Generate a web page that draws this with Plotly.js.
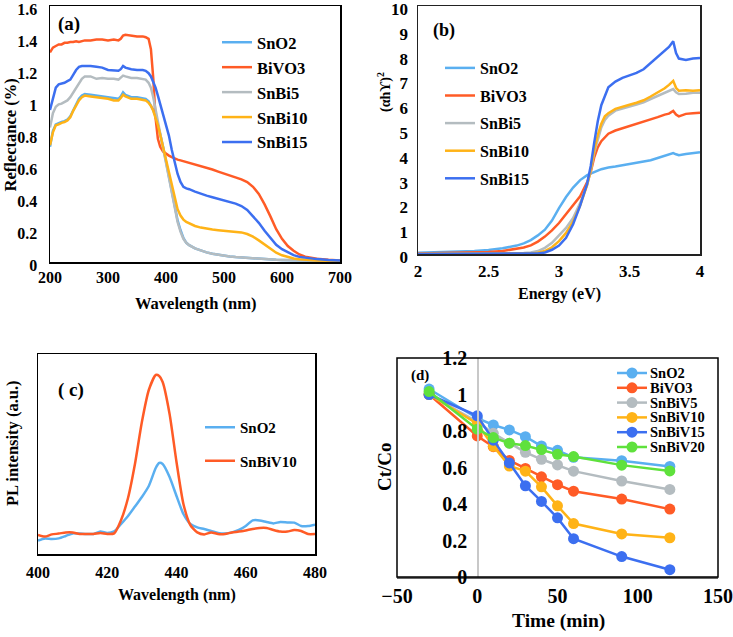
<!DOCTYPE html>
<html><head><meta charset="utf-8">
<script src="https://cdn.plot.ly/plotly-3.0.1.min.js"></script>
<style>html,body{margin:0;padding:0;background:#fff}#chart{width:733px;height:637px}</style>
</head><body><div id="chart"></div>
<script>
// ---------- Panel (a): Reflectance ----------
const wlA = [200,205,210,215,220,225,230,235,240,245,250,255,260,270,280,290,300,310,318,322,326,330,340,350,360,365,370,374,378,382,386,390,395,400,405,410,415,420,425,430,435,440,450,460,470,480,490,500,510,520,530,540,550,560,570,580,590,600,610,620,630,640,650,660,680,700];
const reflSnO2 = [0.72,0.82,0.86,0.87,0.875,0.88,0.89,0.91,0.95,0.99,1.02,1.04,1.05,1.045,1.04,1.035,1.03,1.025,1.02,1.035,1.06,1.045,1.03,1.03,1.025,1.02,1.005,0.98,0.95,0.91,0.86,0.8,0.72,0.63,0.54,0.44,0.35,0.26,0.2,0.15,0.12,0.105,0.085,0.07,0.06,0.052,0.045,0.04,0.035,0.031,0.028,0.025,0.022,0.02,0.018,0.016,0.014,0.013,0.012,0.011,0.01,0.009,0.009,0.008,0.007,0.006];
const reflBiVO3 = [1.31,1.34,1.35,1.36,1.36,1.37,1.37,1.375,1.375,1.38,1.375,1.38,1.385,1.385,1.39,1.39,1.385,1.39,1.385,1.395,1.415,1.42,1.415,1.41,1.41,1.405,1.395,1.33,1.15,0.9,0.77,0.72,0.69,0.675,0.665,0.655,0.645,0.64,0.635,0.63,0.625,0.62,0.61,0.6,0.59,0.578,0.565,0.553,0.54,0.528,0.516,0.5,0.47,0.425,0.36,0.285,0.205,0.145,0.1,0.07,0.047,0.033,0.025,0.02,0.014,0.01];
const reflSnBi5 = [0.84,0.93,0.97,0.985,0.99,1.0,1.01,1.03,1.06,1.09,1.12,1.145,1.16,1.16,1.145,1.15,1.145,1.145,1.14,1.15,1.165,1.16,1.15,1.15,1.145,1.14,1.12,1.09,1.03,0.96,0.88,0.8,0.71,0.62,0.53,0.43,0.33,0.25,0.19,0.145,0.12,0.105,0.085,0.07,0.06,0.052,0.045,0.04,0.035,0.031,0.028,0.025,0.022,0.02,0.018,0.016,0.014,0.013,0.012,0.011,0.01,0.009,0.009,0.008,0.007,0.006];
const reflSnBi10 = [0.73,0.81,0.855,0.86,0.87,0.875,0.885,0.905,0.945,0.98,1.01,1.03,1.04,1.035,1.03,1.025,1.02,1.01,1.01,1.025,1.045,1.035,1.02,1.02,1.015,1.01,0.995,0.975,0.945,0.905,0.855,0.795,0.715,0.64,0.56,0.48,0.4,0.33,0.29,0.265,0.25,0.24,0.225,0.215,0.208,0.203,0.199,0.196,0.193,0.19,0.185,0.175,0.158,0.135,0.108,0.08,0.058,0.042,0.03,0.022,0.017,0.014,0.012,0.01,0.008,0.006];
const reflSnBi15 = [0.95,1.03,1.09,1.11,1.115,1.12,1.13,1.14,1.17,1.2,1.22,1.225,1.225,1.225,1.22,1.215,1.2,1.195,1.195,1.205,1.225,1.215,1.205,1.2,1.2,1.195,1.18,1.16,1.13,1.09,1.04,0.99,0.93,0.86,0.79,0.7,0.62,0.55,0.5,0.47,0.46,0.455,0.44,0.425,0.415,0.405,0.395,0.385,0.375,0.365,0.35,0.325,0.285,0.245,0.195,0.15,0.108,0.08,0.06,0.043,0.032,0.026,0.021,0.018,0.013,0.01];
const namesA = ["SnO2","BiVO3","SnBi5","SnBi10","SnBi15"];

// ---------- Panel (b): Tauc ----------
const eB = [2.0,2.2,2.4,2.5,2.6,2.7,2.75,2.8,2.85,2.9,2.95,3.0,3.05,3.1,3.15,3.2,3.225,3.25,3.275,3.3,3.325,3.35,3.4,3.45,3.5,3.55,3.6,3.65,3.7,3.75,3.78,3.81,3.83,3.85,3.9,3.95,4.0];
const taucSnO2 = [0.05,0.08,0.12,0.16,0.23,0.34,0.43,0.56,0.75,0.98,1.35,1.85,2.3,2.68,2.98,3.18,3.25,3.3,3.36,3.42,3.46,3.49,3.53,3.58,3.62,3.66,3.7,3.78,3.87,3.95,4.0,4.07,4.02,3.98,4.03,4.08,4.1];
const taucBiVO3 = [0.02,0.04,0.06,0.08,0.12,0.2,0.26,0.35,0.5,0.7,0.95,1.25,1.6,1.95,2.33,2.9,3.3,3.9,4.3,4.55,4.72,4.85,4.98,5.07,5.15,5.22,5.32,5.43,5.52,5.62,5.66,5.77,5.62,5.55,5.65,5.68,5.7];
const taucSnBi5 = [0,0,0.01,0.01,0.02,0.03,0.04,0.06,0.12,0.25,0.45,0.74,1.05,1.45,2.05,2.8,3.35,4.1,4.65,5.1,5.4,5.58,5.78,5.88,5.95,6.03,6.12,6.25,6.38,6.5,6.58,6.65,6.52,6.45,6.46,6.5,6.5];
const taucSnBi10 = [0,0,0,0,0.005,0.01,0.015,0.02,0.05,0.12,0.27,0.52,0.85,1.3,1.95,2.8,3.4,4.2,4.8,5.25,5.55,5.68,5.85,5.95,6.02,6.1,6.2,6.35,6.5,6.68,6.82,6.98,6.7,6.58,6.6,6.58,6.6];
const taucSnBi15 = [0,0,0,0,0,0.005,0.01,0.01,0.02,0.06,0.17,0.34,0.65,1.2,1.95,2.85,3.55,4.5,5.35,6.0,6.4,6.72,6.95,7.1,7.2,7.3,7.45,7.7,7.95,8.2,8.35,8.58,8.1,7.88,7.82,7.88,7.9];

// ---------- Panel (c): PL ----------
const wlC = [400,402,404,406,408,410,412,414,416,418,420,422,424,426,428,430,432,434,435,436,438,440,442,444,446,448,450,452,454,456,458,460,462,464,466,468,470,472,474,476,478,480];
const plSnO2 = [0.067,0.078,0.075,0.078,0.09,0.103,0.102,0.1,0.1,0.112,0.105,0.113,0.15,0.19,0.237,0.285,0.34,0.43,0.455,0.45,0.385,0.29,0.2,0.15,0.133,0.125,0.115,0.105,0.102,0.108,0.12,0.14,0.168,0.168,0.16,0.153,0.16,0.158,0.157,0.14,0.14,0.147];
const plSnBiV10 = [0.095,0.087,0.098,0.102,0.108,0.108,0.1,0.1,0.1,0.105,0.1,0.103,0.17,0.28,0.45,0.66,0.82,0.895,0.89,0.86,0.7,0.46,0.25,0.145,0.108,0.098,0.108,0.1,0.1,0.108,0.112,0.118,0.125,0.13,0.13,0.12,0.112,0.112,0.12,0.115,0.1,0.1];

// ---------- Panel (d): degradation ----------
const timeD = [-30,0,10,20,30,40,50,60,90,120];
const ctSnO2   = [1.03,0.87,0.833,0.806,0.769,0.718,0.694,0.656,0.637,0.606];
const ctBiVO3  = [1.0,0.773,0.714,0.639,0.595,0.549,0.506,0.47,0.427,0.372];
const ctSnBiV5 = [1.0,0.85,0.787,0.733,0.683,0.645,0.614,0.58,0.526,0.48];
const ctSnBiV10= [1.0,0.84,0.716,0.608,0.58,0.494,0.39,0.293,0.236,0.215];
const ctSnBiV15= [1.0,0.883,0.75,0.625,0.5,0.414,0.324,0.21,0.112,0.04];
const ctSnBiV20= [1.016,0.81,0.764,0.733,0.72,0.698,0.672,0.66,0.613,0.581];
const namesD = ["SnO2","BiVO3","SnBiV5","SnBiV10","SnBiV15","SnBiV20"];

const colors = {blue1:"#5aaff0", red:"#ff5b26", gray:"#b4bcc0", gold:"#ffb317", blue2:"#3c6ff0", green:"#5fe13c"};
const colA = [colors.blue1, colors.red, colors.gray, colors.gold, colors.blue2];
const colD = [colors.blue1, colors.red, colors.gray, colors.gold, colors.blue2, colors.green];

const W = 733, H = 637;
const px = v => v / W, py = v => 1 - v / H;
const FONT = "Liberation Serif, Times New Roman, serif";
const bold = (size) => ({family: FONT, size: size, color: "#000", weight: "bold"});

const traces = [];
const seriesA = [reflSnO2, reflBiVO3, reflSnBi5, reflSnBi10, reflSnBi15];
seriesA.forEach((ys, i) => traces.push({x: wlA, y: ys, type: "scatter", mode: "lines", name: namesA[i],
  line: {color: colA[i], width: 2.5}, xaxis: "x", yaxis: "y", legend: "legend", legendgroup: "a" + i}));
const seriesB = [taucSnO2, taucBiVO3, taucSnBi5, taucSnBi10, taucSnBi15];
seriesB.forEach((ys, i) => traces.push({x: eB, y: ys, type: "scatter", mode: "lines", name: namesA[i],
  line: {color: colA[i], width: 2.5}, xaxis: "x2", yaxis: "y2", legend: "legend2", legendgroup: "b" + i}));
traces.push({x: wlC, y: plSnO2, type: "scatter", mode: "lines", name: "SnO2", line: {color: colors.blue1, width: 2.5, shape: "spline", smoothing: 0.6}, xaxis: "x3", yaxis: "y3", legend: "legend3", legendgroup: "c0"});
traces.push({x: wlC, y: plSnBiV10, type: "scatter", mode: "lines", name: "SnBiV10", line: {color: colors.red, width: 2.5, shape: "spline", smoothing: 0.6}, xaxis: "x3", yaxis: "y3", legend: "legend3", legendgroup: "c1"});
const seriesD = [ctSnO2, ctBiVO3, ctSnBiV5, ctSnBiV10, ctSnBiV15, ctSnBiV20];
seriesD.forEach((ys, i) => traces.push({x: timeD, y: ys, type: "scatter", mode: "lines+markers", name: namesD[i],
  line: {color: colD[i], width: 2.5}, marker: {color: colD[i], size: 11}, xaxis: "x4", yaxis: "y4", showlegend: false}));

const frameAx = (extra) => Object.assign({showline: true, mirror: true, linecolor: "#000", linewidth: 1.5, showgrid: false, zeroline: false, ticks: "", tickcolor: "#000", ticklabeloverflow: "allow"}, extra);

// custom legend for (d)
const shapes = [];
const annotations = [];
const legDx0 = 617, legDx1 = 647, legDy0 = 373, legDstep = 14.8;
namesD.forEach((n, i) => {
  const yy = legDy0 + i * legDstep;
  shapes.push({type: "line", xref: "paper", yref: "paper", x0: px(legDx0), x1: px(legDx1), y0: py(yy), y1: py(yy), line: {color: colD[i], width: 2.5}});
  shapes.push({type: "circle", xref: "paper", yref: "paper", x0: px(632 - 5.5), x1: px(632 + 5.5), y0: py(yy + 5.5), y1: py(yy - 5.5), fillcolor: colD[i], line: {color: colD[i], width: 0}});
  annotations.push({xref: "paper", yref: "paper", x: px(649), y: py(yy), xanchor: "left", yanchor: "middle", text: n, showarrow: false, font: bold(14.5), borderpad: 0});
});
// frame for (d)
shapes.push({type: "rect", xref: "x4 domain", yref: "y4 domain", x0: 0, x1: 1, y0: 0, y1: 1, line: {color: "#000", width: 1.5}, layer: "above"});

const ann = (x, y, text, size, angle) => ({xref: "paper", yref: "paper", x: px(x), y: py(y), xanchor: "center", yanchor: "middle", text: text, showarrow: false, font: bold(size), textangle: angle || 0, borderpad: 0});
annotations.push(ann(195, 303, "Wavelength (nm)", 16.5));
annotations.push(ann(10.5, 135, "Reflectance (%)", 16.5, -90));
annotations.push(ann(559, 294, "Energy (eV)", 16));
annotations.push(ann(384, 92, "(αhϒ)<sup>2</sup>", 14, -90));
annotations.push(ann(177, 595, "Wavelength (nm)", 16));
annotations.push(ann(12, 443, "PL intensity (a.u.)", 16.5, -90));
annotations.push(ann(558, 621, "Time (min)", 19.5));
annotations.push(ann(384, 467, "Ct/Co", 19, -90));
annotations.push(ann(69, 24, "(a)", 19));
annotations.push(ann(444, 31, "(b)", 18));
annotations.push(ann(71, 390, "( c)", 19));
annotations.push(ann(420, 375, "(d)", 15));

const legendBase = {bgcolor: "rgba(0,0,0,0)", borderwidth: 0, xanchor: "left", yanchor: "top", traceorder: "grouped", itemwidth: 30};
const layout = {
  width: W, height: H, margin: {l: 0, r: 0, t: 0, b: 0}, paper_bgcolor: "#fff", plot_bgcolor: "#fff",
  showlegend: true,
  font: {family: FONT, color: "#000"},
  xaxis: frameAx({domain: [px(50), px(340)], range: [200, 700], tickvals: [200,300,400,500,600,700], tickfont: bold(16), anchor: "y", ticklabelstandoff: 0}),
  yaxis: frameAx({domain: [py(262), py(6)], range: [0, 1.6], tickvals: [0,0.2,0.4,0.6,0.8,1,1.2,1.4,1.6], tickfont: bold(16), anchor: "x", ticklabelstandoff: 8, ticklabelshift: 3}),
  xaxis2: frameAx({domain: [px(418), px(700)], range: [2, 4], tickvals: [2,2.5,3,3.5,4], tickfont: bold(17), anchor: "y2", linecolor: "#222", ticklabelstandoff: 1}),
  yaxis2: frameAx({domain: [py(254), py(6)], range: [0, 10], tickvals: [0,1,2,3,4,5,6,7,8,9,10], tickfont: bold(17), anchor: "x2", linecolor: "#222", ticklabelstandoff: 5, ticklabelshift: 3}),
  xaxis3: frameAx({domain: [px(38), px(315)], range: [400, 480], tickvals: [400,420,440,460,480], tickfont: bold(16), anchor: "y3", ticklabelstandoff: 3}),
  yaxis3: frameAx({domain: [py(554), py(354)], range: [0, 1], showticklabels: false, anchor: "x3"}),
  xaxis4: {domain: [px(397), px(718)], range: [-50, 150], tickvals: [-50,0,50,100,150], tickfont: bold(20), anchor: "y4", showline: true, linecolor: "#666", linewidth: 1.5, showgrid: false, zeroline: false, ticks: "", ticklabelstandoff: 0, ticklabeloverflow: "allow"},
  yaxis4: {domain: [py(577), py(358)], range: [0, 1.2], tickvals: [0,0.2,0.4,0.6,0.8,1,1.2], tickfont: bold(20), anchor: "free", position: px(397 + 0.25 * 321), showline: true, linecolor: "#c8c8c8", linewidth: 1.5, showgrid: false, zeroline: false, ticks: "", ticklabelstandoff: 6, ticklabeloverflow: "allow"},
  legend: Object.assign({}, legendBase, {x: px(217), y: py(25), font: bold(16.5), tracegroupgap: 0.5}),
  legend2: Object.assign({}, legendBase, {x: px(440), y: py(51), font: bold(16), tracegroupgap: 3.8}),
  legend3: Object.assign({}, legendBase, {x: px(200), y: py(411), font: bold(15), tracegroupgap: 11}),
  shapes: shapes,
  annotations: annotations
};
Plotly.newPlot("chart", traces, layout, {staticPlot: true, displayModeBar: false});
</script>
</body></html>
